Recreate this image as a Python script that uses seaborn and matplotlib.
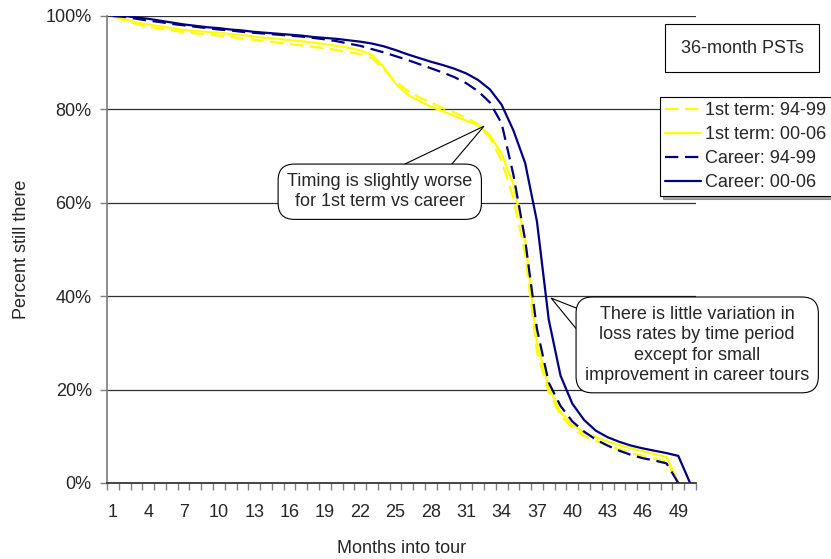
import numpy as np
import pandas as pd
import seaborn as sns
import matplotlib.pyplot as plt
from matplotlib.patches import Polygon
from matplotlib.ticker import PercentFormatter, FixedLocator

# --- Data (share of people still there, in %) ---
months = list(range(1, 51))

first_term_94_99 = [100, 99.0, 98.3, 97.7, 97.3, 96.9, 96.6, 96.3, 96.1, 95.8,
                    95.5, 95.2, 94.9, 94.6, 94.3, 94.0, 93.7, 93.4, 93.1, 92.7,
                    92.3, 91.8, 91.0, 88.5, 86.0, 84.0, 82.6, 81.4, 80.3, 79.3,
                    78.2, 76.8, 74.0, 69.0, 61.0, 49.0, 28.0, 19.5, 14.5, 11.8,
                    10.0, 9.0, 8.0, 7.2, 6.4, 5.8, 5.2, 4.6, 0.0, np.nan]
first_term_00_06 = [100, 99.3, 98.6, 98.2, 97.8, 97.4, 97.0, 96.8, 96.6, 96.4,
                    96.1, 95.9, 95.6, 95.3, 95.1, 94.8, 94.6, 94.3, 94.0, 93.6,
                    93.2, 92.6, 91.7, 89.0, 85.5, 83.2, 81.8, 80.6, 79.6, 78.6,
                    77.6, 76.6, 74.5, 70.5, 64.0, 52.0, 30.0, 20.5, 15.2, 12.5,
                    10.8, 9.8, 8.9, 8.1, 7.4, 6.8, 6.2, 5.6, 0.0, np.nan]
career_94_99 = [100, 99.8, 99.4, 99.0, 98.7, 98.3, 98.0, 97.7, 97.4, 97.1,
                96.9, 96.6, 96.4, 96.2, 96.0, 95.8, 95.6, 95.3, 95.0, 94.6,
                94.1, 93.6, 92.9, 92.2, 91.4, 90.6, 89.7, 88.8, 87.9, 86.9,
                85.6, 83.9, 81.5, 77.0, 66.0, 52.0, 33.0, 21.5, 16.5, 13.2,
                11.0, 9.3, 8.0, 6.9, 6.0, 5.3, 4.8, 4.2, 0.0, np.nan]
career_00_06 = [100, 100, 99.7, 99.4, 99.0, 98.6, 98.2, 97.9, 97.6, 97.4,
                97.1, 96.9, 96.6, 96.4, 96.2, 96.0, 95.8, 95.5, 95.3, 95.1,
                94.8, 94.5, 94.1, 93.5, 92.7, 91.8, 91.0, 90.2, 89.5, 88.7,
                87.7, 86.3, 84.3, 81.0, 75.5, 68.5, 56.0, 35.0, 23.0, 17.0,
                13.5, 11.2, 9.8, 8.8, 8.0, 7.4, 6.9, 6.4, 5.8, 0.0]

series_names = ['1st term: 94-99', '1st term: 00-06', 'Career: 94-99', 'Career: 00-06']
series_values = [first_term_94_99, first_term_00_06, career_94_99, career_00_06]
series_colors = ['#FFFF00', '#FFFF00', '#000080', '#000080']
series_dashes = [(6, 3), '', (6, 3), '']

tick_months = list(range(1, 51, 3))

# --- Build long-form table ---
frames = []
for name, vals in zip(series_names, series_values):
    frames.append(pd.DataFrame({'month': months,
                                'pct': np.array(vals, dtype=float) / 100,
                                'series': name}))
df = pd.concat(frames, ignore_index=True).dropna()

sns.set_theme(style='white')
plt.rcParams['font.family'] = ['Liberation Sans', 'DejaVu Sans']
plt.rcParams['font.size'] = 13

fig = plt.figure(figsize=(8.31, 5.59), dpi=100)
ax = fig.add_axes([0.1288, 0.136, 0.7087, 0.8354])

sns.lineplot(data=df, x='month', y='pct', hue='series', style='series',
             hue_order=series_names, style_order=series_names,
             palette=dict(zip(series_names, series_colors)),
             dashes=dict(zip(series_names, series_dashes)),
             linewidth=1.6, ax=ax, legend=True)

# --- Axes styling ---
ax.set_xlim(0.5, 50.5)
ax.set_ylim(0, 1)
ax.set_xticks(tick_months)
ax.set_xticklabels([str(m) for m in tick_months], fontsize=13)
ax.xaxis.set_minor_locator(FixedLocator(np.arange(0.5, 51, 1)))
ax.tick_params(axis='x', which='major', length=0, pad=15)
ax.tick_params(axis='x', which='minor', length=5, width=1, color='#808080',
               direction='out', bottom=True)
ax.set_yticks(np.arange(0, 1.01, 0.2))
ax.yaxis.set_major_formatter(PercentFormatter(1.0, decimals=0))
ax.tick_params(axis='y', length=5, width=1, color='#808080', direction='out',
               left=True, pad=6, labelsize=13)
ax.yaxis.grid(True, color='#303030', linewidth=0.9)
ax.xaxis.grid(False)
for side in ['top', 'right']:
    ax.spines[side].set_visible(False)
ax.spines['left'].set_color('#808080')
ax.spines['bottom'].set_color('#303030')
ax.set_xlabel('Months into tour', fontsize=13, labelpad=14)
ax.set_ylabel('Percent still there', fontsize=13, labelpad=11)

# --- Legend ---
handles, labels = ax.get_legend_handles_labels()
ax.legend(handles, labels, loc='upper left', bbox_to_anchor=(0.794, 0.8265),
          bbox_transform=fig.transFigure, frameon=True, fancybox=False,
          shadow=True, edgecolor='black', fontsize=13, handlelength=2.0,
          handletextpad=0.2, labelspacing=0.38, borderpad=0.3,
          borderaxespad=0)
ax.get_legend().get_frame().set_linewidth(0.8)

# --- Text boxes / callouts ---
fig.text(0.893, 0.914, '36-month PSTs', ha='center', va='center', fontsize=13,
         bbox=dict(boxstyle='square,pad=0.85', fc='white', ec='black', lw=0.8))


def callout(text, tip, center, base):
    """Rounded text box with a wedge pointing at a data point.
    tip is in data coords, center and base (two points) in figure fraction."""
    tip_fig = fig.transFigure.inverted().transform(ax.transData.transform(tip))
    wedge = Polygon([base[0], tip_fig, base[1]], closed=True,
                    transform=fig.transFigure, fc='white', ec='black',
                    lw=0.8, zorder=4)
    fig.add_artist(wedge)
    fig.text(center[0], center[1], text, ha='center', va='center',
             fontsize=13, linespacing=1.25, zorder=5,
             bbox=dict(boxstyle='round,pad=0.5,rounding_size=0.9',
                       fc='white', ec='black', lw=0.8))


callout('Timing is slightly worse\nfor 1st term vs career',
        tip=(32.5, 0.764), center=(0.457, 0.657),
        base=[(0.478, 0.700), (0.540, 0.700)])

callout('There is little variation in\nloss rates by time period\n'
        'except for small\nimprovement in career tours',
        tip=(38.2, 0.396), center=(0.839, 0.383),
        base=[(0.700, 0.445), (0.700, 0.400)])

fig.savefig('out.png', dpi=100)
